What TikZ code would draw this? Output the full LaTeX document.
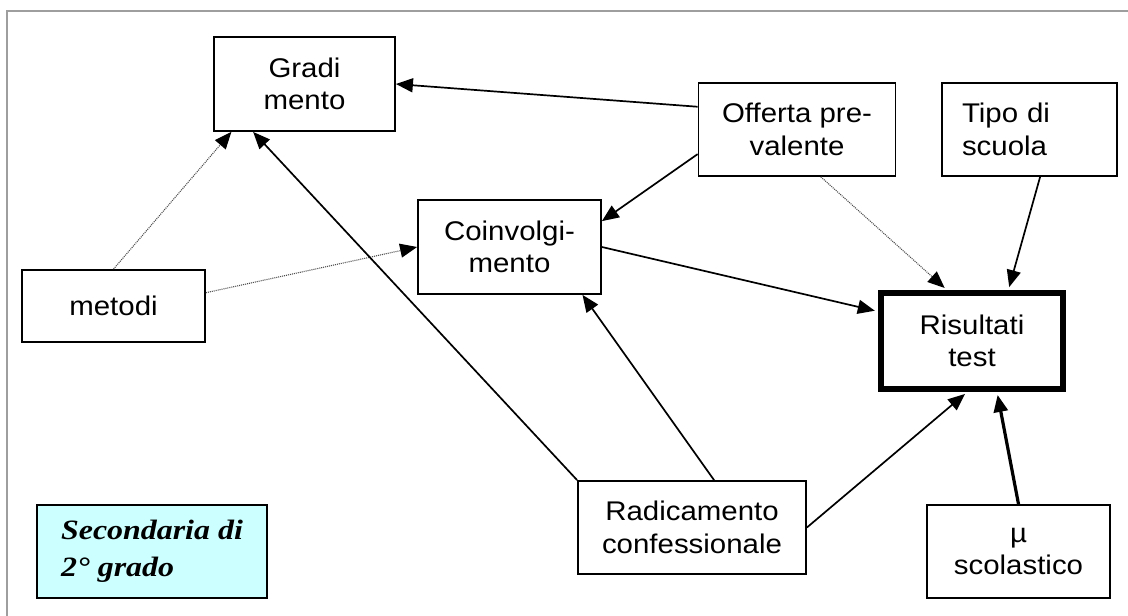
\documentclass[tikz,border=0pt]{standalone}
\usepackage{fontspec}
\setmainfont{Liberation Sans}[FakeStretch=1.09]
\newfontfamily\serifbi{Liberation Serif}[FakeStretch=1.14]
\usetikzlibrary{arrows.meta,calc}
\definecolor{lightcyan}{HTML}{CCFFFF}
\tikzset{
  box/.style={draw=black, line width=1.8pt, fill=white, inner sep=0pt, align=center,
    font=\fontsize{27}{32.5}\selectfont},
  conn/.style={line width=1.7pt, -{Triangle[length=17pt,width=14pt]}},
  dotconn/.style={line width=1.1pt, draw=black!70, dash pattern=on 1pt off 1pt,
    -{Triangle[length=17pt,width=14pt,color=black,fill=black]}},
  heavy/.style={line width=3.2pt, -{Triangle[length=17pt,width=14pt]}},
}
\begin{document}
\begin{tikzpicture}[x=1pt,y=-1pt]
\useasboundingbox (0,0) rectangle (1128,616);
\draw[draw=black!38, line width=1.5pt] (7,616) -- (7,11) -- (1128,11);

\node[box, minimum width=181pt, minimum height=94pt] (gr) at (304.5,84) {Gradi\\mento};
\node[box, minimum width=183pt, minimum height=72pt] (met) at (113.5,306) {metodi};
\node[box, minimum width=183pt, minimum height=94pt] (coi) at (509.5,247) {Coinvolgi-\\mento};
\node[box, minimum width=197pt, minimum height=93pt] (off) at (797,129.5) {Offerta pre-\\valente};
\node[box, align=left, text width=135pt, inner xsep=20pt, minimum height=93pt] (tipo) at (1029.5,129.5) {Tipo di\\scuola};
\node[box, line width=6pt, minimum width=182.5pt, minimum height=96pt] (ris) at (972,341) {Risultati\\test};
\node[box, minimum width=228pt, minimum height=93pt] (rad) at (692,527.5) {Radicamento\\confessionale};
\node[box, minimum width=183pt, minimum height=93pt] (mu) at (1018.5,551.5) {µ\\scolastico};
\node[box, fill=lightcyan, align=left, minimum width=230pt, minimum height=93pt,
  font=\serifbi\bfseries\itshape\fontsize{28}{37}\selectfont] (sec) at (152,551.5) {Secondaria di\\2° grado};

\draw[conn] ($(off.north west)!0.26!(off.south west)$) -- (gr.east);
\draw[conn] ($(off.north west)!0.76!(off.south west)$) -- ($(coi.north east)!0.23!(coi.south east)$);
\draw[dotconn, shorten >=3pt] ($(off.south west)!0.62!(off.south east)$) -- ($(ris.north west)!0.367!(ris.north east)$);
\draw[conn, shorten >=3pt] ($(tipo.south west)!0.56!(tipo.south east)$) -- ($(ris.north west)!0.693!(ris.north east)$);
\draw[conn, shorten >=3pt] (coi.east) -- ($(ris.north west)!0.21!(ris.south west)$);
\draw[dotconn] (met.north) -- ($(gr.south west)!0.1!(gr.south east)$);
\draw[dotconn] ($(met.north east)!0.32!(met.south east)$) -- (coi.west);
\draw[conn] (rad.north west) -- ($(gr.south west)!0.219!(gr.south east)$);
\draw[conn] ($(rad.north west)!0.596!(rad.north east)$) -- ($(coi.south west)!0.895!(coi.south east)$);
\draw[conn, shorten >=3pt] (rad.east) -- ($(ris.south west)!0.475!(ris.south east)$);
\draw[heavy, shorten >=3pt] (mu.north) -- ($(ris.south west)!0.633!(ris.south east)$);
\end{tikzpicture}
\end{document}
